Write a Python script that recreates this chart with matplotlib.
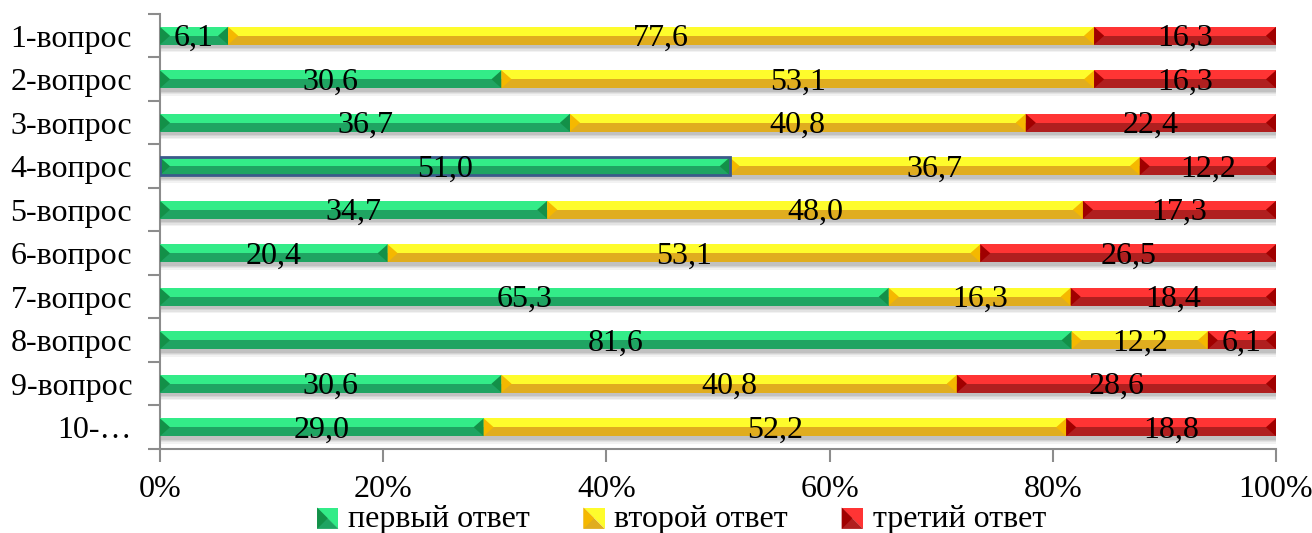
import matplotlib
matplotlib.use("Agg")
import matplotlib.pyplot as plt
import numpy as np
from matplotlib.patches import Patch, Polygon
from matplotlib.legend_handler import HandlerBase

categories = ["1-вопрос", "2-вопрос", "3-вопрос", "4-вопрос", "5-вопрос",
              "6-вопрос", "7-вопрос", "8-вопрос", "9-вопрос", "10-…"]
first = [6.1, 30.6, 36.7, 51.0, 34.7, 20.4, 65.3, 81.6, 30.6, 29.0]
second = [77.6, 53.1, 40.8, 36.7, 48.0, 53.1, 16.3, 12.2, 40.8, 52.2]
third = [16.3, 16.3, 22.4, 12.2, 17.3, 26.5, 18.4, 6.1, 28.6, 18.8]
series_names = ["первый ответ", "второй ответ", "третий ответ"]
xticks = [0, 20, 40, 60, 80, 100]

light = ["#33EC88", "#FEFC2C", "#FF3434"]
dark = ["#1FA462", "#E0AD1F", "#B01F1F"]
bevel = ["#139048", "#F5B800", "#A00000"]

plt.rcParams["font.family"] = ["Liberation Serif", "DejaVu Serif"]
FS = 23

fig = plt.figure(figsize=(13.12, 5.33), dpi=100)
ax = fig.add_axes([160/1312, 1-449/533, (1276-160)/1312, (449-14)/533])

data = np.array([first, second, third])
totals = data.sum(axis=0)
pct = data / totals * 100
n = len(categories)
y = np.arange(n)
h = 0.41

left = np.zeros(n)
for s in range(3):
    w = pct[s]
    for off, al in [(0.14, 0.08), (0.11, 0.10), (0.08, 0.12), (0.05, 0.15)]:
        ax.barh(y + off, w, left=left, height=h + 0.06, color="#606060",
                alpha=al, linewidth=0, zorder=1)
    left = left + w

left = np.zeros(n)
for s in range(3):
    w = pct[s]
    ax.barh(y, w, left=left, height=h, color=dark[s], linewidth=0, zorder=3)
    ax.barh(y - h/4, w, left=left, height=h/2, color=light[s], linewidth=0, zorder=4)
    for i in range(n):
        bw = 0.9
        l0, r0 = left[i], left[i] + w[i]
        yt, yb, yc = y[i] - h/2, y[i] + h/2, y[i]
        ax.add_patch(Polygon([[l0, yt], [l0 + bw, yc], [l0, yb]], closed=True,
                             color=bevel[s], lw=0, zorder=5))
        ax.add_patch(Polygon([[r0, yt], [r0 - bw, yc], [r0, yb]], closed=True,
                             color=bevel[s], lw=0, zorder=5))
        ax.text(l0 + w[i]/2, y[i] + 0.07, f"{data[s][i]:.1f}".replace(".", ","),
                ha="center", va="center", fontsize=FS, color="black", zorder=6)
    left = left + w

i4 = 3
ax.barh(y[i4], pct[0][i4], left=0, height=h, fill=False,
        edgecolor="#3B5A8A", linewidth=2.0, zorder=5)

ax.set_xlim(0, 100)
ax.set_ylim(n - 0.5, -0.5)
ax.set_xticks(xticks)
ax.set_xticklabels([f"{t}%" for t in xticks], fontsize=FS)
ax.set_yticks(y)
ax.set_yticklabels(categories, fontsize=FS)
ax.set_yticks(np.arange(n + 1) - 0.5, minor=True)
ax.tick_params(axis="y", which="major", length=0, pad=20)
ax.tick_params(axis="y", which="minor", length=9, color="#8C8C8C", width=1.5, direction="out")
ax.tick_params(axis="x", which="major", length=9, color="#8C8C8C", width=1.5, direction="out", pad=10)

for sp in ["top", "right"]:
    ax.spines[sp].set_visible(False)
for sp in ["left", "bottom"]:
    ax.spines[sp].set_color("#8C8C8C")
    ax.spines[sp].set_linewidth(1.5)


class BevelHandler(HandlerBase):
    def __init__(self, idx):
        super().__init__()
        self.idx = idx

    def create_artists(self, legend, orig_handle, xdescent, ydescent, width, height, fontsize, trans):
        s = min(width, height) * 0.95
        x0 = -xdescent + (width - s)
        y0 = -ydescent + (height - s) / 2 - 2
        a = Polygon([[x0, y0 + s], [x0 + s, y0 + s], [x0 + s, y0]], closed=True,
                    facecolor=light[self.idx], lw=0, transform=trans)
        b = Polygon([[x0, y0], [x0, y0 + s], [x0 + s, y0]], closed=True,
                    facecolor=dark[self.idx], lw=0, transform=trans)
        c = Polygon([[x0, y0], [x0 + s/2, y0 + s/2], [x0, y0 + s]], closed=True,
                    facecolor=bevel[self.idx], lw=0, transform=trans)
        return [a, b, c]


handles = [Patch(color=light[k]) for k in range(3)]
fig.legend(handles, series_names, loc="center", ncol=3, frameon=False,
           fontsize=FS, bbox_to_anchor=(0.519, 1 - 519/533), handlelength=0.7,
           handletextpad=0.3, columnspacing=1.65, borderpad=0,
           handler_map={handles[k]: BevelHandler(k) for k in range(3)})

fig.savefig("out.png", dpi=100)
